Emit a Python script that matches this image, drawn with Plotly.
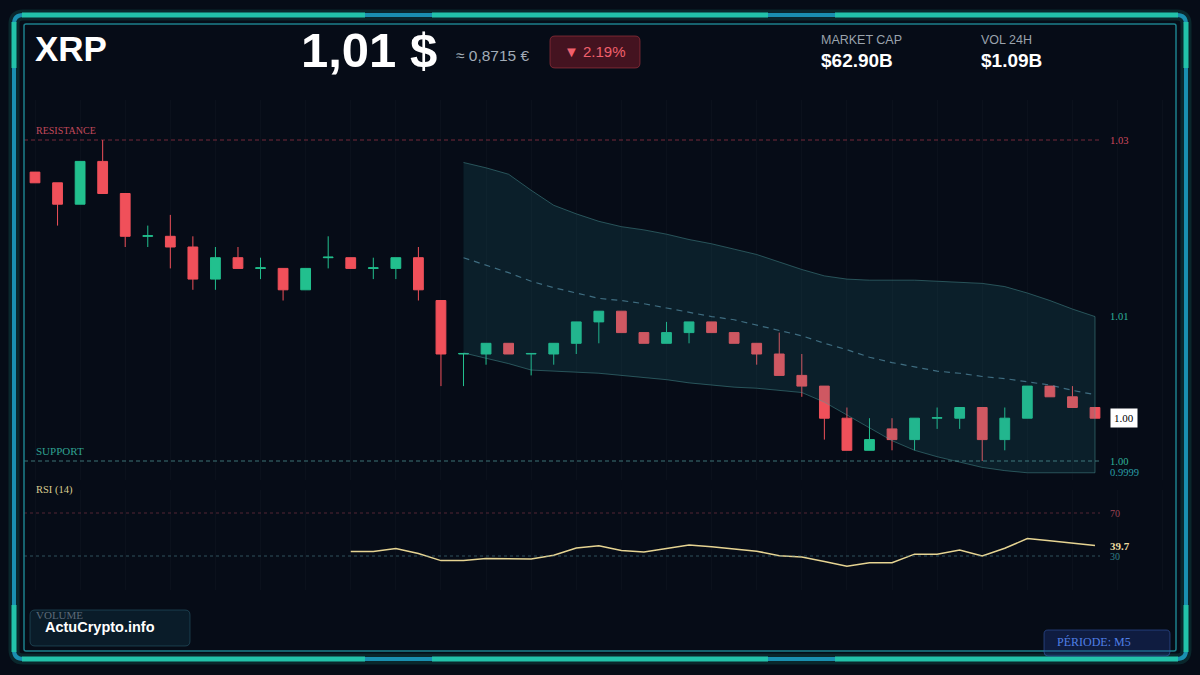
import plotly.graph_objects as go

W, H = 1200, 675

# ---------------- DATA ----------------
candle_idx = list(range(48))
opens  = [1.027, 1.026, 1.024, 1.028, 1.025, 1.021, 1.021, 1.020, 1.017, 1.019,
          1.018, 1.018, 1.016, 1.019, 1.019, 1.018, 1.018, 1.019, 1.015, 1.010,
          1.010, 1.011, 1.010, 1.010, 1.011, 1.013, 1.014, 1.012, 1.011, 1.012,
          1.013, 1.012, 1.011, 1.010, 1.008, 1.007, 1.004, 1.001, 1.003, 1.002,
          1.004, 1.004, 1.005, 1.002, 1.004, 1.007, 1.006, 1.005]
highs  = [1.027, 1.026, 1.028, 1.030, 1.025, 1.022, 1.023, 1.021, 1.020, 1.020,
          1.019, 1.018, 1.018, 1.021, 1.019, 1.019, 1.019, 1.020, 1.015, 1.010,
          1.011, 1.011, 1.010, 1.011, 1.013, 1.014, 1.014, 1.012, 1.013, 1.013,
          1.013, 1.012, 1.011, 1.012, 1.010, 1.007, 1.005, 1.004, 1.004, 1.004,
          1.005, 1.005, 1.005, 1.005, 1.007, 1.007, 1.007, 1.005]
lows   = [1.026, 1.022, 1.024, 1.025, 1.020, 1.020, 1.018, 1.016, 1.016, 1.018,
          1.017, 1.015, 1.016, 1.018, 1.018, 1.017, 1.017, 1.015, 1.007, 1.007,
          1.009, 1.010, 1.008, 1.009, 1.010, 1.011, 1.012, 1.011, 1.011, 1.011,
          1.012, 1.011, 1.009, 1.008, 1.006, 1.002, 1.001, 1.001, 1.001, 1.001,
          1.003, 1.003, 1.000, 1.001, 1.004, 1.006, 1.005, 1.004]
closes = [1.026, 1.024, 1.028, 1.025, 1.021, 1.02105, 1.020, 1.017, 1.019, 1.018,
          1.01805, 1.016, 1.018, 1.01905, 1.018, 1.01805, 1.019, 1.016, 1.010, 1.01005,
          1.011, 1.010, 1.01005, 1.011, 1.013, 1.014, 1.012, 1.011, 1.012, 1.013,
          1.012, 1.011, 1.010, 1.008, 1.007, 1.004, 1.001, 1.002, 1.002, 1.004,
          1.00405, 1.005, 1.002, 1.004, 1.007, 1.006, 1.005, 1.004]

band_idx = list(range(19, 48))
band_upper = [1.0279, 1.0274, 1.0268, 1.0253, 1.0239, 1.0231, 1.0224, 1.0219, 1.0216, 1.0212,
              1.0207, 1.0203, 1.0198, 1.0193, 1.0186, 1.0179, 1.0173, 1.0170, 1.0169, 1.0169,
              1.0169, 1.0168, 1.0167, 1.0166, 1.0163, 1.0157, 1.0150, 1.0142, 1.0135]
band_mid = [1.0190, 1.0183, 1.0176, 1.0168, 1.0162, 1.0157, 1.0152, 1.0150, 1.0147, 1.0143,
            1.0139, 1.0135, 1.0132, 1.0127, 1.0122, 1.0117, 1.0110, 1.0104, 1.0097, 1.0092,
            1.0088, 1.0084, 1.0082, 1.0079, 1.0077, 1.0074, 1.0071, 1.0066, 1.0062]
band_lower = [1.0101, 1.0096, 1.0091, 1.0085, 1.0084, 1.0083, 1.0082, 1.0080, 1.0078, 1.0076,
              1.0073, 1.0071, 1.0069, 1.0068, 1.0066, 1.0064, 1.0055, 1.0043, 1.0031, 1.0019,
              1.0010, 1.0004, 0.9999, 0.9994, 0.9991, 0.9989, 0.9989, 0.9989, 0.9989]

rsi_idx = list(range(14, 48))
rsi_vals = [34.3, 34.3, 37.0, 32.3, 25.7, 25.7, 27.7, 27.3, 27.3, 30.7,
            37.4, 39.6, 35.2, 33.8, 36.9, 40.3, 38.6, 36.5, 34.5, 30.3,
            29.0, 24.8, 20.4, 23.8, 23.8, 31.7, 31.7, 35.5, 30.0, 37.2,
            46.2, 44.1, 41.7, 39.7]

resistance_level = 1.03
support_level = 1.00
rsi_high, rsi_low = 70, 30

# ---------------- STYLE / LAYOUT HELPERS ----------------
RED = "#f0505a"
GREEN = "#22c08e"
BG = "#060c17"

def px(x):
    return x / W

def py(y):
    return 1 - y / H

# x scale: first candle at pixel 35, last at pixel 1095
dx = (1095 - 35) / (len(candle_idx) - 1)
x_range = [-35 / dx, (W - 35) / dx]

# price scale: support 1.00 at pixel 461, resistance 1.03 at pixel 140
k = (resistance_level - support_level) / (461 - 140)
y_top_px, y_bot_px = 100, 480
y_range = [support_level - (y_bot_px - 461) * k, support_level + (461 - y_top_px) * k]

# rsi scale: 70 at 513, 30 at 556
kr = (rsi_high - rsi_low) / (556 - 513)
r_top_px, r_bot_px = 490, 590
r_range = [rsi_low - (r_bot_px - 556) * kr, rsi_low + (556 - r_top_px) * kr]

def rrect(x0, y0, x1, y1, r):
    pts = [("M", x0 + r, y0), ("L", x1 - r, y0), ("Q", x1, y0, x1, y0 + r),
           ("L", x1, y1 - r), ("Q", x1, y1, x1 - r, y1), ("L", x0 + r, y1),
           ("Q", x0, y1, x0, y1 - r), ("L", x0, y0 + r), ("Q", x0, y0, x0 + r, y0)]
    s = ""
    for p in pts:
        cmd = p[0]
        coords = p[1:]
        parts = []
        for j in range(0, len(coords), 2):
            parts.append(f"{px(coords[j]):.5f},{py(coords[j+1]):.5f}")
        s += cmd + " " + " ".join(parts) + " "
    return s + "Z"

fig = go.Figure()

# Bollinger band
fig.add_trace(go.Scatter(
    x=band_idx + band_idx[::-1], y=band_upper + band_lower[::-1],
    fill="toself", fillcolor="rgba(40,130,140,0.16)",
    line=dict(color="rgba(80,160,160,0.45)", width=1),
    mode="lines", hoverinfo="skip", showlegend=False))
fig.add_trace(go.Scatter(
    x=band_idx, y=band_mid, mode="lines",
    line=dict(color="rgba(90,150,175,0.65)", width=1.2, dash="6px,5px"),
    hoverinfo="skip", showlegend=False))

# Candles
fig.add_trace(go.Candlestick(
    x=candle_idx, open=opens, high=highs, low=lows, close=closes,
    increasing=dict(line=dict(color=GREEN, width=1), fillcolor=GREEN),
    decreasing=dict(line=dict(color=RED, width=1), fillcolor=RED),
    whiskerwidth=0, showlegend=False))

# RSI
fig.add_trace(go.Scatter(
    x=rsi_idx, y=rsi_vals, mode="lines", yaxis="y2",
    line=dict(color="#e6d492", width=1.5), showlegend=False))

shapes = []
# Level lines
shapes.append(dict(type="line", xref="paper", yref="y", x0=px(24), x1=px(1100),
                   y0=resistance_level, y1=resistance_level,
                   line=dict(color="rgba(190,60,80,0.6)", width=1, dash="4px,3px")))
shapes.append(dict(type="line", xref="paper", yref="y", x0=px(24), x1=px(1100),
                   y0=support_level, y1=support_level,
                   line=dict(color="rgba(90,170,170,0.65)", width=1, dash="4px,3px")))
shapes.append(dict(type="line", xref="paper", yref="y2", x0=px(24), x1=px(1100),
                   y0=rsi_high, y1=rsi_high,
                   line=dict(color="rgba(160,60,80,0.5)", width=1, dash="3px,3px")))
shapes.append(dict(type="line", xref="paper", yref="y2", x0=px(24), x1=px(1100),
                   y0=rsi_low, y1=rsi_low,
                   line=dict(color="rgba(80,140,150,0.55)", width=1, dash="3px,3px")))

# Frame glow + outer frame
shapes.append(dict(type="path", xref="paper", yref="paper", path=rrect(14, 15, 1186, 659, 9),
                   line=dict(color="rgba(32,192,168,0.15)", width=11)))
shapes.append(dict(type="path", xref="paper", yref="paper", path=rrect(14, 15, 1186, 659, 9),
                   line=dict(color="#1a8fb0", width=4)))
# bright teal segments
bright = "#22c2aa"
for (x0, x1) in [(22, 365), (432, 768), (835, 1178)]:
    for yy in (15, 659):
        shapes.append(dict(type="line", xref="paper", yref="paper", x0=px(x0), x1=px(x1),
                           y0=py(yy), y1=py(yy), line=dict(color=bright, width=5)))
for xx in (14, 1186):
    for (y0, y1) in [(22, 68), (605, 652)]:
        shapes.append(dict(type="line", xref="paper", yref="paper", x0=px(xx), x1=px(xx),
                           y0=py(y0), y1=py(y1), line=dict(color=bright, width=5)))
# inner frame
shapes.append(dict(type="path", xref="paper", yref="paper", path=rrect(24, 24, 1176, 651, 2),
                   line=dict(color="#1d7f8c", width=1.5)))

# badge
shapes.append(dict(type="path", xref="paper", yref="paper", path=rrect(550, 36, 640, 68, 5),
                   fillcolor="rgba(110,25,38,0.6)", line=dict(color="rgba(170,55,65,0.6)", width=1)))
# volume box
shapes.append(dict(type="path", xref="paper", yref="paper", path=rrect(30, 610, 190, 646, 5),
                   fillcolor="rgba(20,60,75,0.35)", line=dict(color="rgba(50,110,130,0.45)", width=1)))
# period box
shapes.append(dict(type="path", xref="paper", yref="paper", path=rrect(1044, 630, 1170, 656, 4),
                   fillcolor="rgba(35,60,140,0.35)", line=dict(color="rgba(60,100,190,0.5)", width=1)))

SANS = "Liberation Sans, Arial, sans-serif"
SERIF = "Liberation Serif, Times New Roman, serif"

ann = []
def text(x, y, t, size, color, family=SANS, xanchor="left", yref="paper", **kw):
    yy = py(y) if yref == "paper" else y
    ann.append(dict(x=px(x), y=yy, xref="paper", yref=yref, text=t, showarrow=False,
                    xanchor=xanchor, yanchor="middle",
                    font=dict(size=size, color=color, family=family), **kw))

text(33, 48, "<b>XRP</b>", 35, "#ffffff")
text(299, 50, "<b>1,01 $</b>", 49, "#ffffff")
text(454, 56, "≈ 0,8715 €", 15.5, "#a2acb8")
text(595, 52, "▼ 2.19%", 15, "#f0606c", xanchor="center")
text(819, 40, "MARKET CAP", 12.5, "#9aa3ad")
text(819, 61, "<b>$62.90B</b>", 19, "#ffffff")
text(979, 40, "VOL 24H", 12.5, "#9aa3ad")
text(979, 61, "<b>$1.09B</b>", 19, "#ffffff")

text(34, 130, "RESISTANCE", 10, "#c24a5c", SERIF)
text(34, 451, "SUPPORT", 11, "#2fa090", SERIF)
text(34, 490, "RSI (14)", 10.5, "#d9cc90", SERIF)

text(1108, resistance_level, "1.03", 10.5, "#d04a5e", SERIF, yref="y")
text(1108, band_upper[-1], "1.01", 10.5, "#2fb39c", SERIF, yref="y")
text(1110, closes[-1], "1.00", 11, "#000000", SERIF, yref="y",
     bgcolor="#ffffff", borderpad=3)
text(1108, support_level, "1.00", 10.5, "#2fb39c", SERIF, yref="y")
text(1108, band_lower[-1], "0.9999", 10.5, "#2a9fa8", SERIF, yref="y")
text(1108, rsi_high, "70", 10, "#9c4454", SERIF, yref="y2")
text(1108, rsi_vals[-1], "<b>39.7</b>", 11, "#ecdca0", SERIF, yref="y2")
text(1108, rsi_low, "30", 10, "#2f7f86", SERIF, yref="y2")

text(34, 615, "VOLUME", 11, "#5d6a78", SERIF)
text(43, 627, "<b>ActuCrypto.info</b>", 14.5, "#ffffff")
text(1055, 642, "PÉRIODE: M5", 12, "#4f7fe6", SERIF)

fig.update_layout(
    width=W, height=H, margin=dict(l=0, r=0, t=0, b=0),
    paper_bgcolor=BG, plot_bgcolor=BG,
    showlegend=False,
    xaxis=dict(range=x_range, domain=[0, 1], showgrid=True, gridcolor="rgba(255,255,255,0.025)",
               dtick=2, tick0=0, zeroline=False, showticklabels=False, ticks="",
               rangeslider=dict(visible=False), fixedrange=True),
    yaxis=dict(range=y_range, domain=[py(y_bot_px), py(y_top_px)], showgrid=False,
               zeroline=False, showticklabels=False, ticks="", fixedrange=True),
    yaxis2=dict(range=r_range, domain=[py(r_bot_px), py(r_top_px)], anchor="x",
                showgrid=False, zeroline=False, showticklabels=False, ticks="", fixedrange=True),
    boxgap=0.38, boxgroupgap=0.3,
    shapes=shapes, annotations=ann,
)

fig.write_html(
    "out.html",
    config={"displayModeBar": False},
    post_script="document.body.style.margin='0';document.body.style.overflow='hidden';"
                "document.body.style.background='" + BG + "';",
)
